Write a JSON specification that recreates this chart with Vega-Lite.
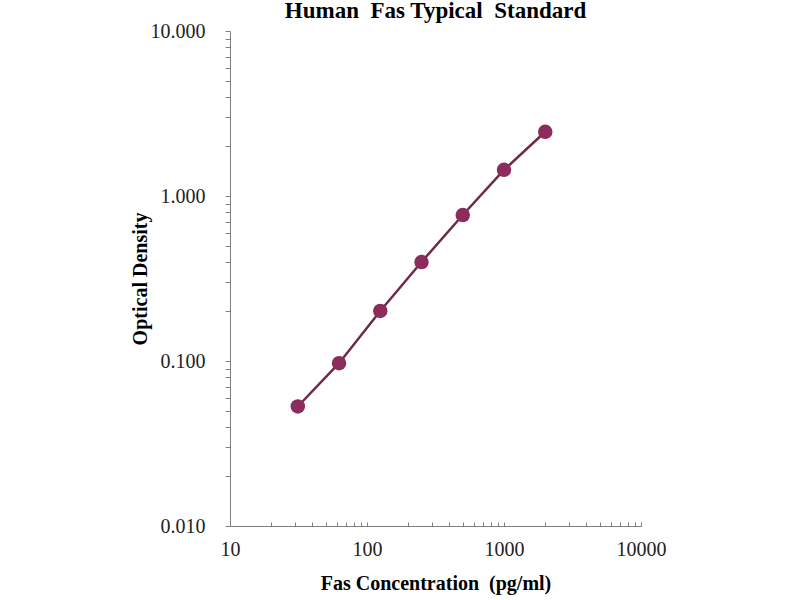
{
  "$schema": "https://vega.github.io/schema/vega-lite/v6.json",
  "autosize": {"type": "none"},
  "padding": {"left": 230, "top": 31, "right": 159, "bottom": 74},
  "width": 411,
  "height": 495,
  "background": "white",
  "title": {
    "text": "Human\u00a0\u00a0Fas Typical\u00a0\u00a0Standard",
    "font": "Liberation Serif",
    "fontSize": 23,
    "fontWeight": "bold",
    "color": "black",
    "anchor": "middle",
    "offset": 12,
    "dy": 14
  },
  "config": {
    "view": {"stroke": null},
    "axis": {
      "grid": false,
      "domainColor": "#808080",
      "tickColor": "#808080",
      "labelFont": "Liberation Serif",
      "labelFontSize": 20,
      "labelColor": "#222",
      "titleFont": "Liberation Serif",
      "titleFontSize": 20,
      "titleFontWeight": "bold",
      "titleColor": "black"
    }
  },
  "data": {
    "values": [
      {"conc": 31.25, "od": 0.053},
      {"conc": 62.5, "od": 0.097},
      {"conc": 125, "od": 0.201},
      {"conc": 250, "od": 0.398},
      {"conc": 500, "od": 0.767},
      {"conc": 1000, "od": 1.44},
      {"conc": 2000, "od": 2.45}
    ]
  },
  "encoding": {
    "x": {
      "field": "conc",
      "type": "quantitative",
      "scale": {"type": "log", "domain": [10, 10000], "nice": false},
      "axis": {
        "title": "Fas Concentration\u00a0\u00a0(pg/ml)",
        "values": [10, 20, 30, 40, 50, 60, 70, 80, 90, 100, 200, 300, 400, 500, 600, 700, 800, 900, 1000, 2000, 3000, 4000, 5000, 6000, 7000, 8000, 9000, 10000],
        "labelExpr": "indexof([10, 100, 1000, 10000], datum.value) >= 0 ? datum.label : ''",
        "format": "d",
        "tickSize": -4,
        "labelPadding": 17,
        "titlePadding": 14,
        "labelFlush": false,
        "labelOverlap": false
      }
    },
    "y": {
      "field": "od",
      "type": "quantitative",
      "scale": {"type": "log", "domain": [0.01, 10], "nice": false},
      "axis": {
        "title": "Optical Density",
        "values": [0.01, 0.02, 0.03, 0.04, 0.05, 0.06, 0.07, 0.08, 0.09, 0.1, 0.2, 0.3, 0.4, 0.5, 0.6, 0.7, 0.8, 0.9, 1, 2, 3, 4, 5, 6, 7, 8, 9, 10],
        "labelExpr": "indexof([0.01, 0.1, 1, 10], datum.value) >= 0 ? format(datum.value, '.3f') : ''",
        "tickSize": 5,
        "labelPadding": 20,
        "titlePadding": 0,
        "labelFlush": false,
        "labelOverlap": false
      }
    }
  },
  "layer": [
    {"mark": {"type": "line", "color": "#6E2A4B", "strokeWidth": 2.5}},
    {"mark": {"type": "point", "filled": true, "opacity": 1, "color": "#8B2C5C", "size": 210}}
  ]
}
